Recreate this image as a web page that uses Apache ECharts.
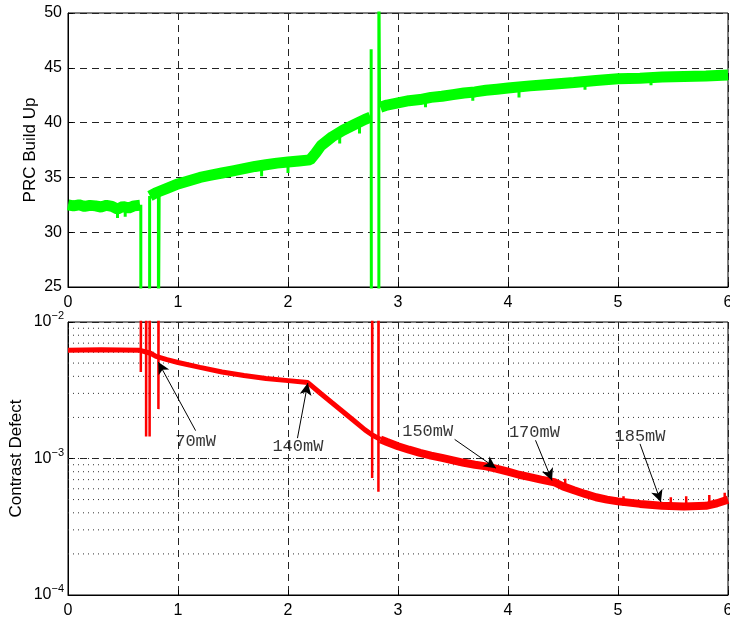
<!DOCTYPE html>
<html><head><meta charset="utf-8">
<script src="https://cdn.jsdelivr.net/npm/echarts@6/dist/echarts.min.js"></script>
<style>html,body{margin:0;padding:0;background:#fff}#c{width:730px;height:622px}</style>
</head><body><div id="c"></div>
<script>
// ---------- data ----------
const xTicks = [0, 1, 2, 3, 4, 5, 6];
const prcTicks = [25, 30, 35, 40, 45, 50];
const cdTicks = [1e-4, 1e-3, 1e-2];
const cdMinorGrid = [2e-4,3e-4,4e-4,5e-4,6e-4,7e-4,8e-4,9e-4,1e-3,2e-3,3e-3,4e-3,5e-3,6e-3,7e-3,8e-3,9e-3];

// PRC build up (green), main band
const prcMain = [
  [0,32.5],[0.05,32.4],[0.1,32.5],[0.15,32.35],[0.2,32.45],[0.25,32.4],[0.3,32.3],[0.35,32.45],
  [0.4,32.35],[0.45,32.1],[0.5,32.35],[0.55,32.2],[0.6,32.4],[0.655,32.45],
  [0.7,null],
  [0.745,33.3],[0.8,33.6],[0.9,34.0],[1.0,34.4],[1.1,34.7],[1.2,35.0],[1.3,35.2],[1.4,35.4],
  [1.5,35.6],[1.6,35.8],[1.7,36.0],[1.8,36.15],[1.9,36.3],[2.0,36.4],[2.1,36.5],
  [2.2,36.6],[2.25,37.2],[2.3,37.9],[2.4,38.7],[2.5,39.3],[2.6,39.8],[2.7,40.3],[2.75,40.5],
  [2.8,null],
  [2.84,41.4],[2.9,41.6],[3.0,41.8],[3.1,42.0],[3.2,42.1],[3.3,42.3],[3.4,42.4],[3.5,42.55],
  [3.6,42.7],[3.7,42.8],[3.8,42.95],[3.9,43.05],[4.0,43.15],[4.2,43.35],[4.4,43.5],[4.6,43.65],
  [4.8,43.85],[5.0,44.0],[5.2,44.05],[5.4,44.15],[5.6,44.2],[5.8,44.25],[6.0,44.35]
];
// PRC spikes (thin vertical excursions)
const prcSpikes = [
  [0.662,32.5],[0.662,20],[0.742,20],[0.742,33.3],[0.75,null],
  [0.822,33.6],[0.822,20],[0.829,20],[0.829,33.7],[0.9,null],
  [2.756,40.5],[2.756,46.7],[2.758,20],[2.826,20],[2.826,55],[2.832,55],[2.832,41.4],[2.9,null],
  [0.45,32.0],[0.45,31.3],[0.5,null],
  [0.52,32.1],[0.52,31.4],[0.55,null],
  [1.76,35.9],[1.76,35.1],[1.8,null],
  [2.0,36.2],[2.0,35.4],[2.05,null],
  [2.47,38.9],[2.47,38.1],[2.5,null],
  [2.65,39.8],[2.65,39.0],[2.7,null],
  [3.25,42.0],[3.25,41.4],[3.3,null],
  [3.68,42.6],[3.68,42.0],[3.7,null],
  [4.1,43.0],[4.1,42.3],[4.15,null],
  [4.7,43.5],[4.7,43.0],[4.75,null],
  [5.3,43.9],[5.3,43.4],[5.35,null]
];

// Contrast defect (red), main curve
const cdMainA = [
  [0,6.2e-3],[0.3,6.25e-3],[0.655,6.2e-3],[0.75,5.9e-3],[0.8,5.6e-3],[0.9,5.3e-3],[1.0,5.05e-3],
  [1.2,4.65e-3],[1.4,4.3e-3],[1.6,4.05e-3],[1.8,3.85e-3],[2.0,3.72e-3],[2.18,3.6e-3],
  [2.3,2.98e-3],[2.4,2.56e-3],[2.5,2.2e-3],[2.6,1.89e-3],[2.7,1.62e-3],[2.77,1.48e-3],[2.84,1.38e-3]
];
const cdMainB = [
  [2.84,1.38e-3],[2.9,1.32e-3],[3.0,1.23e-3],[3.1,1.16e-3],[3.2,1.1e-3],[3.3,1.05e-3],[3.4,1.01e-3],
  [3.5,9.7e-4],[3.6,9.3e-4],[3.7,9.0e-4],[3.8,8.75e-4],[3.9,8.4e-4],[4.0,8.0e-4],[4.1,7.6e-4],
  [4.2,7.3e-4],[4.3,7.0e-4],[4.42,6.7e-4],[4.5,6.25e-4],[4.6,5.85e-4],[4.7,5.5e-4],[4.8,5.2e-4],
  [4.9,5.0e-4],[5.0,4.85e-4],[5.2,4.65e-4],[5.4,4.5e-4],[5.6,4.45e-4],[5.8,4.5e-4],[5.9,4.7e-4],[6.0,5.0e-4]
];
const cdSpikes = [
  [0.662,0.02],[0.662,4.3e-3],[0.664,0.02],[0.68,null],
  [0.71,0.02],[0.71,1.45e-3],[0.712,0.02],[0.72,null],
  [0.742,0.02],[0.742,1.45e-3],[0.744,0.02],[0.78,null],
  [0.822,0.02],[0.822,2.3e-3],[0.824,0.02],[0.9,null],
  [2.765,0.02],[2.765,7.2e-4],[2.767,0.02],[2.79,null],
  [2.822,0.02],[2.822,5.7e-4],[2.824,0.02],[2.9,null],
  [4.52,6.2e-4],[4.52,7.1e-4],[4.55,null],
  [5.05,4.5e-4],[5.05,5.3e-4],[5.1,null],
  [5.48,4.3e-4],[5.48,5.2e-4],[5.5,null],
  [5.62,4.3e-4],[5.62,5.3e-4],[5.65,null],
  [5.83,4.4e-4],[5.83,5.4e-4],[5.85,null],
  [5.97,4.7e-4],[5.97,5.6e-4]
];

// annotations: label, label position, arrow tail, arrow tip (data units)
const annLabels = ['70mW', '140mW', '150mW', '170mW', '185mW'];
const annText = [[1.16,1.34e-3],[2.09,1.23e-3],[3.27,1.59e-3],[4.24,1.56e-3],[5.2,1.46e-3]];
const annTail = [[1.16,1.6e-3],[2.086,1.41e-3],[3.515,1.38e-3],[4.25,1.36e-3],[5.2,1.28e-3]];
const annTip  = [[0.82,5.1e-3],[2.18,3.57e-3],[3.89,8.5e-4],[4.40,6.9e-4],[5.39,4.8e-4]];

// ---------- chart ----------
const FONT = 'Liberation Sans, Arial, Helvetica, sans-serif';
const gridLine = {show:true, lineStyle:{color:'#222', width:1, type:[7,5]}};
function xAxisCfg(gi){
  return {type:'value', gridIndex:gi, min:xTicks[0], max:xTicks[xTicks.length-1], interval:1,
    axisLine:{show:true, onZero:false, lineStyle:{color:'#000', width:1}},
    axisTick:{show:true, inside:true, length:5, lineStyle:{color:'#000'}},
    axisLabel:{color:'#000', fontSize:16, fontFamily:FONT, margin:8},
    splitLine: gridLine};
}
// minor log grid drawn as a line series of horizontal segments
const minorGridData = [];
cdMinorGrid.forEach(v => { minorGridData.push([xTicks[0], v], [xTicks[xTicks.length-1], v], [xTicks[xTicks.length-1], null]); });

const chart = echarts.init(document.getElementById('c'), null, {renderer:'canvas'});
chart.setOption({
  animation:false,
  backgroundColor:'#fff',
  grid:[
    {left:68, top:13, width:660, height:274, show:true, borderColor:'#000', borderWidth:1, outerBoundsMode:'none', containLabel:false},
    {left:68, top:322, width:660, height:273, show:true, borderColor:'#000', borderWidth:1, outerBoundsMode:'none', containLabel:false}
  ],
  xAxis:[xAxisCfg(0), xAxisCfg(1)],
  yAxis:[
    {type:'value', gridIndex:0, min:prcTicks[0], max:prcTicks[prcTicks.length-1], interval:5,
      name:'PRC Build Up', nameLocation:'middle', nameGap:29.5, nameMoveOverlap:false,
      nameTextStyle:{color:'#000', fontSize:17, fontFamily:FONT},
      axisLine:{show:true, lineStyle:{color:'#000'}},
      axisTick:{show:true, inside:true, length:5, lineStyle:{color:'#000'}},
      axisLabel:{color:'#000', fontSize:16, fontFamily:FONT, margin:6},
      splitLine: gridLine},
    {type:'log', logBase:10, gridIndex:1, min:cdTicks[0], max:cdTicks[cdTicks.length-1],
      name:'Contrast Defect', nameLocation:'middle', nameGap:43, nameMoveOverlap:false,
      nameTextStyle:{color:'#000', fontSize:17, fontFamily:FONT},
      axisLine:{show:true, lineStyle:{color:'#000'}},
      axisTick:{show:true, inside:true, length:5, lineStyle:{color:'#000'}},
      axisLabel:{color:'#000', fontFamily:FONT, margin:4,
        formatter:function(v){ const e = Math.round(Math.log10(v)); return '{b|10}{s|' + String(e).replace('-', '−') + '}'; },
        rich:{ b:{fontSize:16, fontFamily:FONT, color:'#000'},
               s:{fontSize:11, fontFamily:FONT, color:'#000', padding:[0,0,12,0]} }},
      splitLine: gridLine}
  ],
  series:[
    {type:'line', xAxisIndex:1, yAxisIndex:1, data:minorGridData, showSymbol:false, symbol:'none',
      silent:true, connectNulls:false, lineStyle:{color:'#333', width:1, type:[1,4]}, z:1},
    {type:'line', xAxisIndex:0, yAxisIndex:0, data:prcMain, showSymbol:false, symbol:'none',
      lineStyle:{color:'#00ff00', width:11}, connectNulls:false, z:3},
    {type:'line', xAxisIndex:0, yAxisIndex:0, data:prcSpikes, showSymbol:false, symbol:'none',
      lineStyle:{color:'#00ff00', width:3}, connectNulls:false, z:3},
    {type:'line', xAxisIndex:1, yAxisIndex:1, data:cdMainA, showSymbol:false, symbol:'none',
      lineStyle:{color:'#ff0000', width:5}, z:3},
    {type:'line', xAxisIndex:1, yAxisIndex:1, data:cdMainB, showSymbol:false, symbol:'none',
      lineStyle:{color:'#ff0000', width:8}, z:3},
    {type:'line', xAxisIndex:1, yAxisIndex:1, data:cdSpikes, showSymbol:false, symbol:'none',
      lineStyle:{color:'#ff0000', width:2.5}, connectNulls:false, z:3},
    {type:'scatter', xAxisIndex:1, yAxisIndex:1, symbolSize:0, silent:true, z:5,
      data: annLabels.map((t,i) => ({name:t, value:annText[i]})),
      label:{show:true, position:'inside', formatter:'{b}', color:'#000', fontSize:17,
        fontFamily:'Liberation Mono, Courier New, monospace'},
      markLine:{silent:true, animation:false, symbol:['none','arrow'], symbolSize:[9,12],
        label:{show:false}, lineStyle:{color:'#000', width:1, type:'solid'},
        data: annLabels.map((t,i) => [{coord:annTail[i]}, {coord:annTip[i]}])}}
  ]
});
</script>
</body></html>
